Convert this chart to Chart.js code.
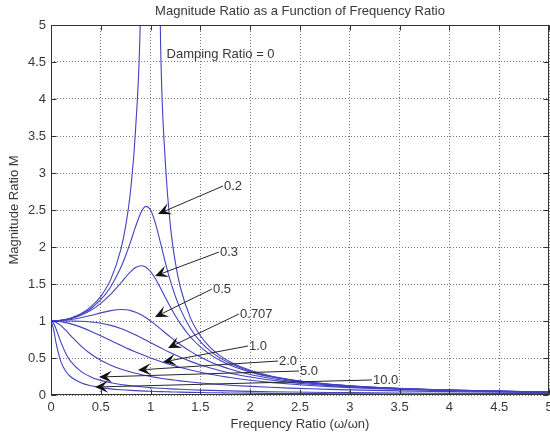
<!DOCTYPE html>
<html>
<head>
<meta charset="utf-8">
<script src="https://cdn.jsdelivr.net/npm/chart.js@4/dist/chart.umd.min.js"></script>
<style>
  html, body { margin: 0; padding: 0; background: #fff; }
  canvas { display: block; }
</style>
</head>
<body>
<canvas id="magChart" width="550" height="436"></canvas>
<script>
// frequency ratio r = w/wn, shared by every curve
const freqRatio = [0, 0.025, 0.05, 0.1, 0.15, 0.2, 0.3, 0.4, 0.5, 0.6, 0.7, 0.75, 0.8, 0.85, 0.9, 0.95,
  1.0, 1.05, 1.1, 1.15, 1.2, 1.25, 1.3, 1.4, 1.5, 1.6, 1.7, 1.8, 2.0, 2.2, 2.4, 2.6, 2.8, 3.0, 3.5, 4.0, 4.5, 5.0];

// magnitude ratio M for each damping ratio
const zeta0 = [1, 1.0006, 1.0025, 1.0101, 1.0230, 1.0417, 1.0989, 1.1905, 1.3333, 1.5625, 1.9608, 2.2857, 2.7778, 3.6036, 5.2632, 10.256,
  null, 9.756, 4.7619, 3.1008, 2.2727, 1.7778, 1.4493, 1.0417, 0.8, 0.641, 0.5291, 0.4464, 0.3333, 0.2604, 0.2101, 0.1736, 0.1462, 0.125, 0.0889, 0.0667, 0.0519, 0.0417];
const zeta02 = [1, 1.0006, 1.0023, 1.0093, 1.0211, 1.0381, 1.0895, 1.1695, 1.2883, 1.4630, 1.7188, 1.8851, 2.0761, 2.2785, 2.4566, 2.5490,
  2.5, 2.3131, 2.0511, 1.7800, 1.5357, 1.3287, 1.1574, 0.8998, 0.7212, 0.5931, 0.4979, 0.4250, 0.3221, 0.2538, 0.2059, 0.1708, 0.1443, 0.1236, 0.0882, 0.0663, 0.0517, 0.0415];
const zeta03 = [1, 1.0005, 1.0021, 1.0083, 1.0187, 1.0336, 1.0780, 1.1447, 1.2380, 1.3618, 1.5136, 1.5933, 1.6667, 1.7223, 1.7469, 1.7293,
  1.6667, 1.5667, 1.4438, 1.3129, 1.1851, 1.0667, 0.9603, 0.7839, 0.6492, 0.5459, 0.4656, 0.4021, 0.3095, 0.2463, 0.2011, 0.1676, 0.1420, 0.1220, 0.0874, 0.0658, 0.0514, 0.0413];
const zeta05 = [1, 1.0003, 1.0013, 1.0050, 1.0112, 1.0198, 1.0436, 1.0748, 1.1094, 1.1399, 1.1546, 1.1517, 1.1399, 1.1184, 1.0871, 1.0471,
  1, 0.9479, 0.8930, 0.8373, 0.7824, 0.7295, 0.6795, 0.5891, 0.5121, 0.4475, 0.3934, 0.3480, 0.2774, 0.2260, 0.1876, 0.1582, 0.1353, 0.1170, 0.0849, 0.0644, 0.0506, 0.0408];
const zeta0707 = [1, 1, 1, 1, 0.9997, 0.9992, 0.9960, 0.9874, 0.9701, 0.9407, 0.8980, 0.8716, 0.8423, 0.8106, 0.7771, 0.7424,
  0.7071, 0.6718, 0.6370, 0.6031, 0.5704, 0.5391, 0.5092, 0.4545, 0.4061, 0.3638, 0.3270, 0.2949, 0.2425, 0.2023, 0.1711, 0.1463, 0.1265, 0.1104, 0.0814, 0.0624, 0.0493, 0.0400];
const zeta1 = [1, 0.9994, 0.9975, 0.9901, 0.9780, 0.9615, 0.9174, 0.8621, 0.8, 0.7353, 0.6711, 0.64, 0.6098, 0.5806, 0.5525, 0.5256,
  0.5, 0.4756, 0.4525, 0.4306, 0.4098, 0.3902, 0.3717, 0.3378, 0.3077, 0.2809, 0.2571, 0.2358, 0.2, 0.1712, 0.1479, 0.1289, 0.1131, 0.1, 0.0755, 0.0588, 0.0471, 0.0385];
const zeta2 = [1, 0.9957, 0.9829, 0.9365, 0.8719, 0.8002, 0.6640, 0.5534, 0.4682, 0.4026, 0.3514, 0.3298, 0.3105, 0.2931, 0.2774, 0.2631,
  0.25, 0.2380, 0.2270, 0.2169, 0.2075, 0.1987, 0.1906, 0.1760, 0.1632, 0.1518, 0.1417, 0.1326, 0.1170, 0.1042, 0.0933, 0.0841, 0.0762, 0.0693, 0.0557, 0.0456, 0.0379, 0.0320];
const zeta5 = [1, 0.9707, 0.8962, 0.7107, 0.5585, 0.4508, 0.3190, 0.2447, 0.1978, 0.1657, 0.1425, 0.1331, 0.1249, 0.1176, 0.1111, 0.1053,
  0.1, 0.0952, 0.0909, 0.0869, 0.0833, 0.0799, 0.0768, 0.0713, 0.0664, 0.0622, 0.0585, 0.0551, 0.0494, 0.0448, 0.0409, 0.0376, 0.0347, 0.0322, 0.0272, 0.0234, 0.0204, 0.0180];
const zeta10 = [1, 0.8949, 0.7080, 0.4481, 0.3169, 0.2431, 0.1648, 0.1243, 0.0997, 0.0832, 0.0714, 0.0666, 0.0625, 0.0588, 0.0556, 0.0526,
  0.05, 0.0476, 0.0455, 0.0435, 0.0417, 0.0400, 0.0385, 0.0357, 0.0333, 0.0312, 0.0294, 0.0277, 0.0249, 0.0226, 0.0207, 0.0191, 0.0177, 0.0165, 0.0141, 0.0123, 0.0109, 0.0097];

const dampingRatios = ['0', '0.2', '0.3', '0.5', '0.707', '1.0', '2.0', '5.0', '10.0'];
const curves = [zeta0, zeta02, zeta03, zeta05, zeta0707, zeta1, zeta2, zeta5, zeta10];

const xTicks = [0, 0.5, 1, 1.5, 2, 2.5, 3, 3.5, 4, 4.5, 5];
const yTicks = [0, 0.5, 1, 1.5, 2, 2.5, 3, 3.5, 4, 4.5, 5];

// text callouts, positions in axis units: text sits at "from", arrow points to "to"
const callouts = [
  { text: 'Damping Ratio = 0', from: [1.15, 4.6] },
  { text: '0.2',   from: [1.727, 2.824], to: [1.074, 2.446] },
  { text: '0.3',   from: [1.687, 1.932], to: [1.044, 1.608] },
  { text: '0.5',   from: [1.616, 1.432], to: [1.044, 1.054] },
  { text: '0.707', from: [1.888, 1.095], to: [1.175, 0.635] },
  { text: '1.0',   from: [1.978, 0.662], to: [1.124, 0.446] },
  { text: '2.0',   from: [2.279, 0.459], to: [0.873, 0.338] },
  { text: '5.0',   from: [2.490, 0.324], to: [0.482, 0.243] },
  { text: '10.0',  from: [3.223, 0.203], to: [0.442, 0.108] }
];

const FONT = 'Liberation Sans, Arial, Helvetica, sans-serif';
const TEXT = '#383838';
const LINE = '#4242c2';

const datasets = curves.map((vals, i) => ({
  label: 'Damping Ratio = ' + dampingRatios[i],
  data: freqRatio.map((r, j) => ({ x: r, y: vals[j] })),
  borderColor: LINE,
  borderWidth: 1.1,
  pointRadius: 0,
  fill: false,
  spanGaps: false,
  cubicInterpolationMode: 'monotone'
}));

// box around the plot with MATLAB-style inward tick marks
const frameTicks = {
  id: 'frameTicks',
  afterDatasetsDraw(chart) {
    const { ctx, chartArea: a, scales: { x, y } } = chart;
    const L = Math.round(a.left) + 0.5, R = Math.round(a.right) - 0.5;
    const T = Math.round(a.top) + 0.5, B = Math.round(a.bottom) - 0.5;
    ctx.save();
    ctx.strokeStyle = '#333';
    ctx.lineWidth = 1;
    ctx.beginPath();
    xTicks.forEach(v => {
      const px = Math.round(x.getPixelForValue(v)) + 0.5;
      ctx.moveTo(px, B); ctx.lineTo(px, B - 5);
      ctx.moveTo(px, T); ctx.lineTo(px, T + 5);
    });
    yTicks.forEach(v => {
      const py = Math.round(y.getPixelForValue(v)) + 0.5;
      ctx.moveTo(L, py); ctx.lineTo(L + 5, py);
      ctx.moveTo(R, py); ctx.lineTo(R - 5, py);
    });
    ctx.stroke();
    ctx.strokeRect(L, T, R - L, B - T);
    ctx.restore();
  }
};

// callout labels with filled arrowheads
const arrowNotes = {
  id: 'arrowNotes',
  afterDatasetsDraw(chart) {
    const { ctx, scales: { x, y } } = chart;
    ctx.save();
    ctx.font = '13px ' + FONT;
    ctx.textBaseline = 'middle';
    ctx.textAlign = 'left';
    callouts.forEach(c => {
      const sx = x.getPixelForValue(c.from[0]);
      const sy = y.getPixelForValue(c.from[1]);
      if (c.to) {
        const tx = x.getPixelForValue(c.to[0]);
        const ty = y.getPixelForValue(c.to[1]);
        const dx = sx - tx, dy = sy - ty;
        const len = Math.hypot(dx, dy);
        const ux = dx / len, uy = dy / len;
        const nx = -uy, ny = ux;
        ctx.strokeStyle = '#262626';
        ctx.lineWidth = 1;
        ctx.beginPath();
        ctx.moveTo(sx, sy);
        ctx.lineTo(tx + ux * 8, ty + uy * 8);
        ctx.stroke();
        ctx.fillStyle = '#111';
        ctx.beginPath();
        ctx.moveTo(tx, ty);
        ctx.lineTo(tx + ux * 13 + nx * 6, ty + uy * 13 + ny * 6);
        ctx.lineTo(tx + ux * 7.5, ty + uy * 7.5);
        ctx.lineTo(tx + ux * 13 - nx * 6, ty + uy * 13 - ny * 6);
        ctx.closePath();
        ctx.fill();
      }
      ctx.fillStyle = TEXT;
      ctx.fillText(c.text, sx + 1, sy);
    });
    ctx.restore();
  }
};

function fixedAxis(size, isX) {
  return function (scale) {
    if (isX) scale.height = size; else scale.width = size;
    scale.paddingLeft = 0;
    scale.paddingRight = 0;
    scale.paddingTop = 0;
    scale.paddingBottom = 0;
  };
}

new Chart(document.getElementById('magChart'), {
  type: 'line',
  data: { datasets: datasets },
  plugins: [frameTicks, arrowNotes],
  options: {
    responsive: false,
    animation: false,
    events: [],
    layout: { padding: { top: 0, right: 1, bottom: 0, left: 0 } },
    plugins: {
      legend: { display: false },
      tooltip: { enabled: false },
      title: {
        display: true,
        fullSize: false,
        text: 'Magnitude Ratio as a Function of Frequency Ratio',
        color: TEXT,
        font: { family: FONT, size: 13, weight: 'normal' },
        padding: { top: 4, bottom: 5.4 }
      }
    },
    scales: {
      x: {
        type: 'linear',
        min: 0,
        max: 5,
        afterBuildTicks: s => { s.ticks = xTicks.map(v => ({ value: v })); },
        afterFit: fixedAxis(41, true),
        ticks: { color: TEXT, font: { family: FONT, size: 13 }, padding: 5, maxRotation: 0, autoSkip: false, callback: v => String(v) },
        grid: { color: '#7a7a7a', drawTicks: false, borderDash: [1, 2] },
        border: { display: false, dash: [1, 2] },
        title: { display: true, text: 'Frequency Ratio (\u03c9/\u03c9n)', color: TEXT, font: { family: FONT, size: 13 }, padding: { top: 0, bottom: 4 } }
      },
      y: {
        type: 'linear',
        min: 0,
        max: 5,
        afterBuildTicks: s => { s.ticks = yTicks.map(v => ({ value: v })); },
        afterFit: fixedAxis(51, false),
        ticks: { color: TEXT, font: { family: FONT, size: 13 }, padding: 5, autoSkip: false, callback: v => String(v) },
        grid: { color: '#7a7a7a', drawTicks: false, borderDash: [1, 2] },
        border: { display: false, dash: [1, 2] },
        title: { display: true, text: 'Magnitude Ratio M', color: TEXT, font: { family: FONT, size: 13 }, padding: { top: 7 } }
      }
    }
  }
});
</script>
</body>
</html>
